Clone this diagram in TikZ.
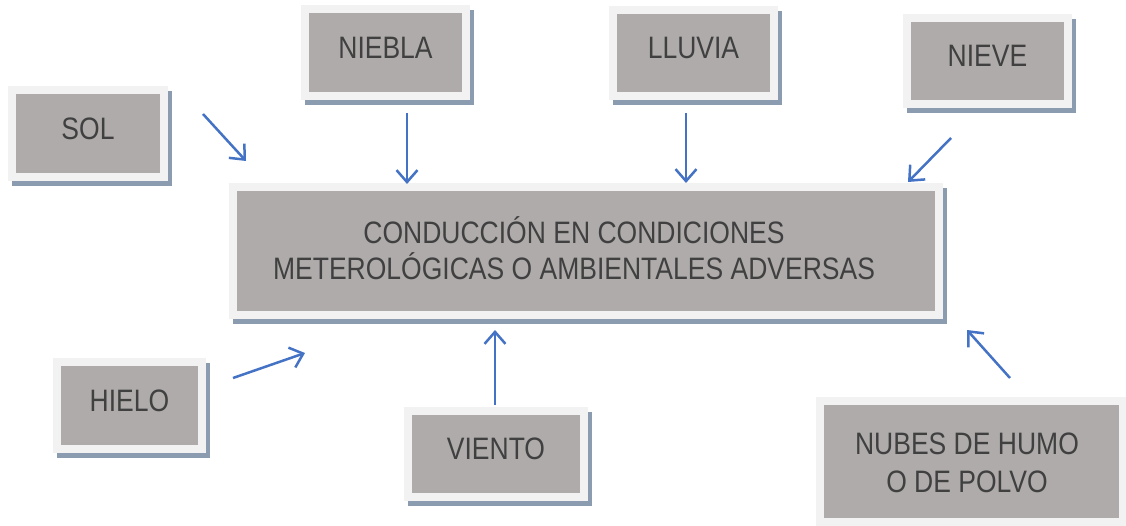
\documentclass[tikz,border=0pt]{standalone}
\usepackage{fontspec}
\setmainfont{Liberation Sans}[FakeStretch=0.855]
\usetikzlibrary{arrows.meta}
\definecolor{boxfill}{HTML}{AFABAB}
\definecolor{frame}{HTML}{F2F2F2}
\definecolor{shadowc}{HTML}{8C9CB0}
\definecolor{txt}{HTML}{404040}
\definecolor{arrowc}{HTML}{4472C4}
\tikzset{
  wbox/.style={rectangle, fill=boxfill, draw=frame, line width=8pt, inner sep=0pt,
    text=txt, font=\fontsize{31}{36}\selectfont, align=center,
    preaction={draw=shadowc, fill=shadowc, line width=8pt,
      transform canvas={xshift=4pt, yshift=-5pt}}},
  onel/.style={text depth=10pt},
  arr/.style={draw=arrowc, line width=2.5pt,
    -{Straight Barb[length=12pt,width=21pt,line width=2.5pt]}},
  lbl/.style={text=txt, font=\fontsize{31}{36}\selectfont, align=center, inner sep=0pt}
}
\begin{document}
\begin{tikzpicture}[x=1pt,y=-1pt]
\useasboundingbox (0,0) rectangle (1126,526);
% boxes
\node[wbox,onel,minimum width=152pt,minimum height=87pt] (sol) at (88,133.5) {SOL};
\node[wbox,onel,minimum width=161pt,minimum height=87pt] (niebla) at (385.5,53) {NIEBLA};
\node[wbox,onel,minimum width=161pt,minimum height=86pt] (lluvia) at (693.5,53) {LLUVIA};
\node[wbox,onel,minimum width=161pt,minimum height=86pt] (nieve) at (987.5,61) {NIEVE};
\node[wbox,minimum width=706pt,minimum height=128pt] (main) at (586,251) {};
\node[lbl] (maintext) at (574,248.5) {CONDUCCIÓN EN CONDICIONES\\METEROLÓGICAS O AMBIENTALES ADVERSAS};
\node[wbox,onel,minimum width=145pt,minimum height=87pt] (hielo) at (129.5,405.5) {HIELO};
\node[wbox,onel,minimum width=176pt,minimum height=86pt] (viento) at (496,454) {VIENTO};
\node[wbox,minimum width=303pt,minimum height=121pt] (nubes) at (971,461.5) {};
\node[lbl,font=\fontsize{31}{38}\selectfont] (nubestext) at (967,463) {NUBES DE HUMO\\O DE POLVO};
% arrow end points
\coordinate (solA) at (203,114);   \coordinate (solB) at (246,161);
\coordinate (nieblaA) at (407,113); \coordinate (nieblaB) at (407,184);
\coordinate (lluviaA) at (686,113); \coordinate (lluviaB) at (686,183);
\coordinate (nieveA) at (951,138);  \coordinate (nieveB) at (908,182);
\coordinate (hieloA) at (233,378);  \coordinate (hieloB) at (305,353);
\coordinate (vientoA) at (495,405); \coordinate (vientoB) at (495,330);
\coordinate (nubesA) at (1010,378); \coordinate (nubesB) at (967,330);
% arrows
\draw[arr] (solA) -- (solB);
\draw[arr] (nieblaA) -- (nieblaB);
\draw[arr] (lluviaA) -- (lluviaB);
\draw[arr] (nieveA) -- (nieveB);
\draw[arr] (hieloA) -- (hieloB);
\draw[arr] (vientoA) -- (vientoB);
\draw[arr] (nubesA) -- (nubesB);
\end{tikzpicture}
\end{document}
